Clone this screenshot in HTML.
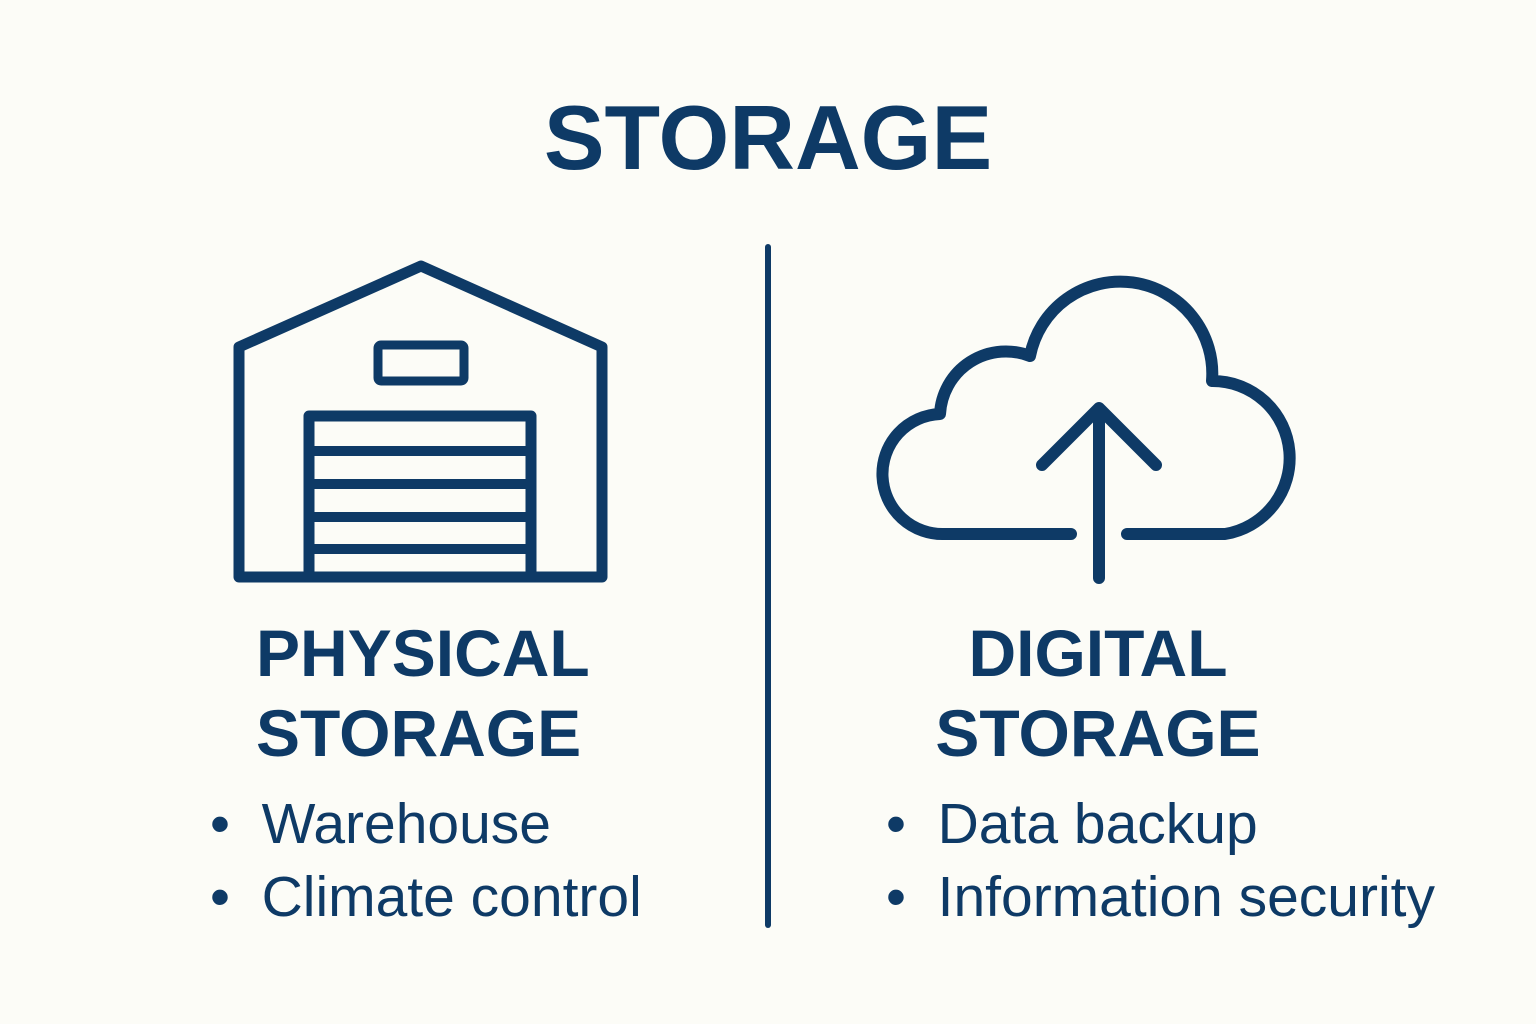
<!DOCTYPE html>
<html><head><meta charset="utf-8"><style>
html,body{margin:0;padding:0;background:#fcfcf7;}
body{width:1536px;height:1024px;position:relative;overflow:hidden;font-family:"Liberation Sans",sans-serif;color:#0e3a66;}
.t{position:absolute;white-space:nowrap;}
.b{font-weight:bold;}
</style></head><body>
<div class="t b" style="left:0;width:1536px;text-align:center;top:87px;font-size:91px;letter-spacing:0px;">STORAGE</div>
<svg width="1536" height="1024" style="position:absolute;left:0;top:0" fill="none" stroke="#0e3a66" stroke-linecap="round" stroke-linejoin="round">
<line x1="768" y1="247" x2="768" y2="925" stroke-width="6"/>
<path d="M239,347 L421,266 L602,347 L602,577 L239,577 Z" stroke-width="11"/>
<rect x="378" y="345" width="86" height="36" rx="3" stroke-width="9"/>
<path d="M309,577 V416 H531 V577" stroke-width="11"/>
<g stroke-width="10"><line x1="309" y1="451" x2="531" y2="451"/><line x1="309" y1="484" x2="531" y2="484"/><line x1="309" y1="517" x2="531" y2="517"/><line x1="309" y1="549" x2="531" y2="549"/></g>
<path d="M1071,534 H945 A57,57 0 0 1 940,414 A66,66 0 0 1 1030,356 A92,92 0 0 1 1212,381 A77,77 0 0 1 1225,534 H1127" stroke-width="12"/>
<path d="M1099,578 V410 M1042,465 L1099,408 L1156,465" stroke-width="12"/>
</svg>
<div class="t b" style="left:256px;top:613px;font-size:66px;line-height:80px;">PHYSICAL<br>STORAGE</div>
<div class="t b" style="left:932px;width:332px;text-align:center;top:613px;font-size:66px;line-height:80px;">DIGITAL<br>STORAGE</div>
<div class="t" style="left:210px;top:788px;font-size:57px;line-height:73px;">•&nbsp;&nbsp;Warehouse<br>•&nbsp;&nbsp;Climate control</div>
<div class="t" style="left:886px;top:788px;font-size:57px;line-height:73px;">•&nbsp;&nbsp;Data backup<br>•&nbsp;&nbsp;Information security</div>
</body></html>
